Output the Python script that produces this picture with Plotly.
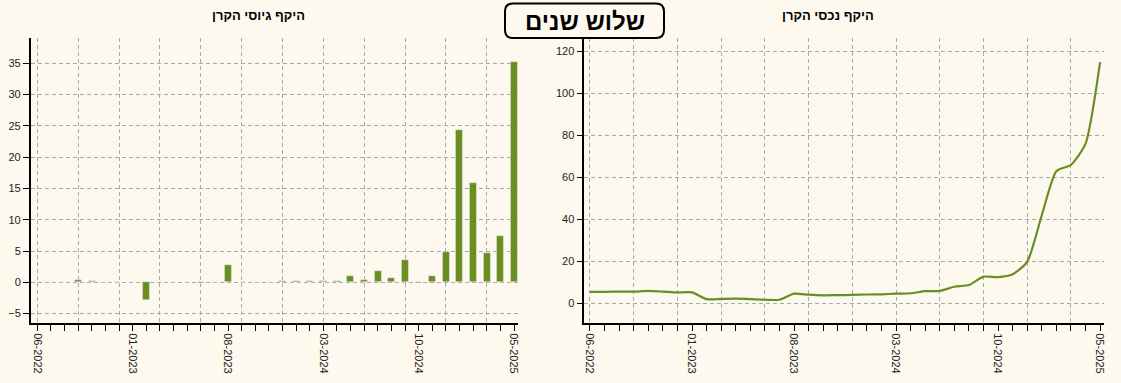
import plotly.graph_objects as go

# ---- data ----
months = ["06-2022", "07-2022", "08-2022", "09-2022", "10-2022", "11-2022", "12-2022",
          "01-2023", "02-2023", "03-2023", "04-2023", "05-2023", "06-2023", "07-2023",
          "08-2023", "09-2023", "10-2023", "11-2023", "12-2023", "01-2024", "02-2024",
          "03-2024", "04-2024", "05-2024", "06-2024", "07-2024", "08-2024", "09-2024",
          "10-2024", "11-2024", "12-2024", "01-2025", "02-2025", "03-2025", "04-2025",
          "05-2025"]
fundraising = [0, 0, 0.1, 0.35, 0.15, 0, 0, 0, -2.85, 0, 0, 0, -0.05, 0, 2.75, 0, 0, 0,
               0.15, 0.15, 0.15, 0.15, 0.2, 1.0, 0.35, 1.8, 0.65, 3.5, -0.05, 1.0, 4.8,
               24.3, 15.9, 4.65, 7.35, 35.2]
assets = [5.5, 5.5, 5.6, 5.6, 5.9, 5.6, 5.2, 5.2, 2.0, 2.1, 2.2, 2.0, 1.7, 1.7, 4.6, 4.1,
          3.8, 3.9, 4.0, 4.2, 4.3, 4.6, 4.8, 5.8, 5.9, 7.9, 8.7, 12.7, 12.5, 13.9, 19.8,
          42, 63, 66, 76, 115]
label_every = 7
grid_every = 3

title_left = "היקף גיוסי הקרן"
title_right = "היקף נכסי הקרן"
main_title = "שלוש שנים"

# ---- styling ----
BG = "#FDF9EF"
GREEN = "#6B8E23"
GRID = "#AAAAAA"
FONT = "Arial, Liberation Sans, DejaVu Sans, sans-serif"
W, H = 1121, 383

idx = list(range(len(months)))
tickvals = idx[::label_every]
ticktext = [months[i] for i in tickvals]
gridvals = idx[::grid_every]

fig = go.Figure()
fig.add_trace(go.Bar(x=idx, y=fundraising, marker_color=GREEN, width=0.5,
                     xaxis="x", yaxis="y", showlegend=False, hoverinfo="x+y"))
fig.add_trace(go.Scatter(x=idx, y=assets, mode="lines", line=dict(color=GREEN, width=2.2,
                         shape="spline", smoothing=0.6), xaxis="x2", yaxis="y2",
                         showlegend=False))
# empty helper traces so the grid-only overlay axes are rendered
fig.add_trace(go.Scatter(x=gridvals, y=[None] * len(gridvals), mode="lines",
                         xaxis="x3", yaxis="y", showlegend=False, hoverinfo="skip"))
fig.add_trace(go.Scatter(x=gridvals, y=[None] * len(gridvals), mode="lines",
                         xaxis="x4", yaxis="y2", showlegend=False, hoverinfo="skip"))


def px_x(p):
    return p / W


def px_y(p):
    return 1 - p / H


left_dom = [px_x(30.7), px_x(518)]
right_dom = [px_x(584.3), px_x(1104)]
y_dom = [px_y(323.3), px_y(38)]
xr_left = [-0.485, 35.29]
xr_right = [-0.39, 35.27]

xcommon = dict(tickvals=tickvals, ticktext=ticktext, tickangle=90, ticks="outside",
               ticklen=6, tickcolor="black", showline=True, linecolor="black",
               linewidth=1.5, showgrid=False, zeroline=False,
               minor=dict(dtick=1, tick0=0, ticks="outside", ticklen=6,
                          tickcolor="black", showgrid=False),
               tickfont=dict(size=11, color="#222", family=FONT), automargin=False)
ycommon = dict(ticks="outside", ticklen=6, tickcolor="black", showline=True,
               linecolor="black", linewidth=1.5, showgrid=True, gridcolor=GRID,
               griddash="4px,3px", gridwidth=1, zeroline=False,
               tickfont=dict(size=11, color="#222", family=FONT), automargin=False)
gridx = dict(tickvals=gridvals, showticklabels=False, ticks="", showline=False,
             showgrid=True, gridcolor=GRID, griddash="4px,3px", gridwidth=1,
             zeroline=False)

fig.update_layout(
    width=W, height=H,
    margin=dict(l=0, r=0, t=0, b=0),
    paper_bgcolor=BG, plot_bgcolor=BG,
    font=dict(family=FONT),
    bargap=0,
    xaxis=dict(domain=left_dom, range=xr_left, anchor="y", **xcommon),
    yaxis=dict(domain=y_dom, range=[-6.55, 39.04], dtick=5, anchor="x", **ycommon),
    xaxis2=dict(domain=right_dom, range=xr_right, anchor="y2", **xcommon),
    yaxis2=dict(domain=y_dom, range=[-9.53, 126.5], dtick=20, anchor="x2", **ycommon),
    xaxis3=dict(domain=left_dom, range=xr_left, overlaying="x", anchor="y", **gridx),
    xaxis4=dict(domain=right_dom, range=xr_right, overlaying="x2", anchor="y2", **gridx),
    annotations=[
        dict(text="<b>" + title_left + "</b>", x=px_x(258), y=px_y(16), xref="paper",
             yref="paper", xanchor="center", yanchor="middle", showarrow=False,
             font=dict(size=13, color="black", family=FONT)),
        dict(text="<b>" + title_right + "</b>", x=px_x(828), y=px_y(16), xref="paper",
             yref="paper", xanchor="center", yanchor="middle", showarrow=False,
             font=dict(size=13, color="black", family=FONT)),
        dict(text="<b>" + main_title + "</b>", x=px_x(585), y=px_y(21), xref="paper",
             yref="paper", xanchor="center", yanchor="middle", showarrow=False,
             font=dict(size=24, color="black", family=FONT)),
    ],
)

# rounded box around the main title (decoration, in pixel-derived paper coords)
x0, x1, y0, y1, r = 505, 664, 3.5, 38, 8
path = (f"M {px_x(x0 + r)},{px_y(y0)} L {px_x(x1 - r)},{px_y(y0)} "
        f"Q {px_x(x1)},{px_y(y0)} {px_x(x1)},{px_y(y0 + r)} "
        f"L {px_x(x1)},{px_y(y1 - r)} Q {px_x(x1)},{px_y(y1)} {px_x(x1 - r)},{px_y(y1)} "
        f"L {px_x(x0 + r)},{px_y(y1)} Q {px_x(x0)},{px_y(y1)} {px_x(x0)},{px_y(y1 - r)} "
        f"L {px_x(x0)},{px_y(y0 + r)} Q {px_x(x0)},{px_y(y0)} {px_x(x0 + r)},{px_y(y0)} Z")
fig.add_shape(type="path", path=path, xref="paper", yref="paper",
              line=dict(color="black", width=2), fillcolor="rgba(0,0,0,0)", layer="above")

post = ("document.body.style.margin='0';document.body.style.padding='0';"
        "document.body.style.background='" + BG + "';")
fig.write_html("out.html", post_script=post, config={"displayModeBar": False})
